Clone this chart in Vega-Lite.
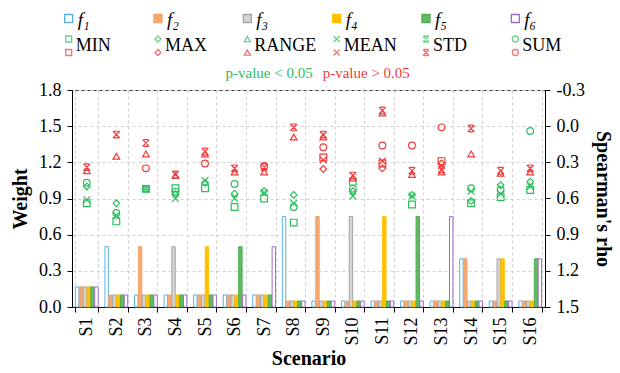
{
  "$schema": "https://vega.github.io/schema/vega-lite/v6.json",
  "background": "white",
  "padding": {"left": 10, "top": 5, "right": 2, "bottom": 0},
  "spacing": 4,
  "bounds": "flush",
  "config": {
    "font": "Liberation Serif",
    "view": {"stroke": "#404040"},
    "axis": {"labelFont": "Liberation Serif", "titleFont": "Liberation Serif"},
    "text": {"font": "Liberation Serif"}
  },
  "datasets": {
    "bars": [
      {"scenario":"S1","feature":"f1","weight":0.167},{"scenario":"S1","feature":"f2","weight":0.167},{"scenario":"S1","feature":"f3","weight":0.167},{"scenario":"S1","feature":"f4","weight":0.167},{"scenario":"S1","feature":"f5","weight":0.167},{"scenario":"S1","feature":"f6","weight":0.167},
      {"scenario":"S2","feature":"f1","weight":0.5},{"scenario":"S2","feature":"f2","weight":0.1},{"scenario":"S2","feature":"f3","weight":0.1},{"scenario":"S2","feature":"f4","weight":0.1},{"scenario":"S2","feature":"f5","weight":0.1},{"scenario":"S2","feature":"f6","weight":0.1},
      {"scenario":"S3","feature":"f1","weight":0.1},{"scenario":"S3","feature":"f2","weight":0.5},{"scenario":"S3","feature":"f3","weight":0.1},{"scenario":"S3","feature":"f4","weight":0.1},{"scenario":"S3","feature":"f5","weight":0.1},{"scenario":"S3","feature":"f6","weight":0.1},
      {"scenario":"S4","feature":"f1","weight":0.1},{"scenario":"S4","feature":"f2","weight":0.1},{"scenario":"S4","feature":"f3","weight":0.5},{"scenario":"S4","feature":"f4","weight":0.1},{"scenario":"S4","feature":"f5","weight":0.1},{"scenario":"S4","feature":"f6","weight":0.1},
      {"scenario":"S5","feature":"f1","weight":0.1},{"scenario":"S5","feature":"f2","weight":0.1},{"scenario":"S5","feature":"f3","weight":0.1},{"scenario":"S5","feature":"f4","weight":0.5},{"scenario":"S5","feature":"f5","weight":0.1},{"scenario":"S5","feature":"f6","weight":0.1},
      {"scenario":"S6","feature":"f1","weight":0.1},{"scenario":"S6","feature":"f2","weight":0.1},{"scenario":"S6","feature":"f3","weight":0.1},{"scenario":"S6","feature":"f4","weight":0.1},{"scenario":"S6","feature":"f5","weight":0.5},{"scenario":"S6","feature":"f6","weight":0.1},
      {"scenario":"S7","feature":"f1","weight":0.1},{"scenario":"S7","feature":"f2","weight":0.1},{"scenario":"S7","feature":"f3","weight":0.1},{"scenario":"S7","feature":"f4","weight":0.1},{"scenario":"S7","feature":"f5","weight":0.1},{"scenario":"S7","feature":"f6","weight":0.5},
      {"scenario":"S8","feature":"f1","weight":0.75},{"scenario":"S8","feature":"f2","weight":0.05},{"scenario":"S8","feature":"f3","weight":0.05},{"scenario":"S8","feature":"f4","weight":0.05},{"scenario":"S8","feature":"f5","weight":0.05},{"scenario":"S8","feature":"f6","weight":0.05},
      {"scenario":"S9","feature":"f1","weight":0.05},{"scenario":"S9","feature":"f2","weight":0.75},{"scenario":"S9","feature":"f3","weight":0.05},{"scenario":"S9","feature":"f4","weight":0.05},{"scenario":"S9","feature":"f5","weight":0.05},{"scenario":"S9","feature":"f6","weight":0.05},
      {"scenario":"S10","feature":"f1","weight":0.05},{"scenario":"S10","feature":"f2","weight":0.05},{"scenario":"S10","feature":"f3","weight":0.75},{"scenario":"S10","feature":"f4","weight":0.05},{"scenario":"S10","feature":"f5","weight":0.05},{"scenario":"S10","feature":"f6","weight":0.05},
      {"scenario":"S11","feature":"f1","weight":0.05},{"scenario":"S11","feature":"f2","weight":0.05},{"scenario":"S11","feature":"f3","weight":0.05},{"scenario":"S11","feature":"f4","weight":0.75},{"scenario":"S11","feature":"f5","weight":0.05},{"scenario":"S11","feature":"f6","weight":0.05},
      {"scenario":"S12","feature":"f1","weight":0.05},{"scenario":"S12","feature":"f2","weight":0.05},{"scenario":"S12","feature":"f3","weight":0.05},{"scenario":"S12","feature":"f4","weight":0.05},{"scenario":"S12","feature":"f5","weight":0.75},{"scenario":"S12","feature":"f6","weight":0.05},
      {"scenario":"S13","feature":"f1","weight":0.05},{"scenario":"S13","feature":"f2","weight":0.05},{"scenario":"S13","feature":"f3","weight":0.05},{"scenario":"S13","feature":"f4","weight":0.05},{"scenario":"S13","feature":"f5","weight":0.05},{"scenario":"S13","feature":"f6","weight":0.75},
      {"scenario":"S14","feature":"f1","weight":0.4},{"scenario":"S14","feature":"f2","weight":0.4},{"scenario":"S14","feature":"f3","weight":0.05},{"scenario":"S14","feature":"f4","weight":0.05},{"scenario":"S14","feature":"f5","weight":0.05},{"scenario":"S14","feature":"f6","weight":0.05},
      {"scenario":"S15","feature":"f1","weight":0.05},{"scenario":"S15","feature":"f2","weight":0.05},{"scenario":"S15","feature":"f3","weight":0.4},{"scenario":"S15","feature":"f4","weight":0.4},{"scenario":"S15","feature":"f5","weight":0.05},{"scenario":"S15","feature":"f6","weight":0.05},
      {"scenario":"S16","feature":"f1","weight":0.05},{"scenario":"S16","feature":"f2","weight":0.05},{"scenario":"S16","feature":"f3","weight":0.05},{"scenario":"S16","feature":"f4","weight":0.05},{"scenario":"S16","feature":"f5","weight":0.4},{"scenario":"S16","feature":"f6","weight":0.4}
    ],
    "points": [
      {"scenario":"S1","stat":"MIN","rho":0.64,"sig":"lt"},{"scenario":"S1","stat":"MAX","rho":0.50,"sig":"lt"},{"scenario":"S1","stat":"RANGE","rho":0.37,"sig":"gt"},{"scenario":"S1","stat":"MEAN","rho":0.61,"sig":"lt"},{"scenario":"S1","stat":"STD","rho":0.34,"sig":"gt"},{"scenario":"S1","stat":"SUM","rho":0.47,"sig":"lt"},
      {"scenario":"S2","stat":"MIN","rho":0.79,"sig":"lt"},{"scenario":"S2","stat":"MAX","rho":0.64,"sig":"lt"},{"scenario":"S2","stat":"RANGE","rho":0.25,"sig":"gt"},{"scenario":"S2","stat":"MEAN","rho":0.74,"sig":"lt"},{"scenario":"S2","stat":"STD","rho":0.07,"sig":"gt"},{"scenario":"S2","stat":"SUM","rho":0.72,"sig":"lt"},
      {"scenario":"S3","stat":"MIN","rho":0.52,"sig":"lt"},{"scenario":"S3","stat":"MAX","rho":0.52,"sig":"lt"},{"scenario":"S3","stat":"RANGE","rho":0.23,"sig":"gt"},{"scenario":"S3","stat":"MEAN","rho":0.52,"sig":"lt"},{"scenario":"S3","stat":"STD","rho":0.14,"sig":"gt"},{"scenario":"S3","stat":"SUM","rho":0.35,"sig":"gt"},
      {"scenario":"S4","stat":"MIN","rho":0.515,"sig":"lt"},{"scenario":"S4","stat":"MAX","rho":0.565,"sig":"lt"},{"scenario":"S4","stat":"RANGE","rho":0.41,"sig":"gt"},{"scenario":"S4","stat":"MEAN","rho":0.60,"sig":"lt"},{"scenario":"S4","stat":"STD","rho":0.40,"sig":"gt"},{"scenario":"S4","stat":"SUM","rho":0.545,"sig":"lt"},
      {"scenario":"S5","stat":"MIN","rho":0.515,"sig":"lt"},{"scenario":"S5","stat":"MAX","rho":0.47,"sig":"lt"},{"scenario":"S5","stat":"RANGE","rho":0.23,"sig":"gt"},{"scenario":"S5","stat":"MEAN","rho":0.45,"sig":"lt"},{"scenario":"S5","stat":"STD","rho":0.21,"sig":"gt"},{"scenario":"S5","stat":"SUM","rho":0.31,"sig":"gt"},
      {"scenario":"S6","stat":"MIN","rho":0.67,"sig":"lt"},{"scenario":"S6","stat":"MAX","rho":0.56,"sig":"lt"},{"scenario":"S6","stat":"RANGE","rho":0.38,"sig":"gt"},{"scenario":"S6","stat":"MEAN","rho":0.60,"sig":"lt"},{"scenario":"S6","stat":"STD","rho":0.35,"sig":"gt"},{"scenario":"S6","stat":"SUM","rho":0.48,"sig":"lt"},
      {"scenario":"S7","stat":"MIN","rho":0.60,"sig":"lt"},{"scenario":"S7","stat":"MAX","rho":0.54,"sig":"lt"},{"scenario":"S7","stat":"RANGE","rho":0.38,"sig":"gt"},{"scenario":"S7","stat":"MEAN","rho":0.55,"sig":"lt"},{"scenario":"S7","stat":"STD","rho":0.34,"sig":"gt"},{"scenario":"S7","stat":"SUM","rho":0.33,"sig":"gt"},
      {"scenario":"S8","stat":"MIN","rho":0.80,"sig":"lt"},{"scenario":"S8","stat":"MAX","rho":0.57,"sig":"lt"},{"scenario":"S8","stat":"RANGE","rho":0.09,"sig":"gt"},{"scenario":"S8","stat":"MEAN","rho":0.64,"sig":"lt"},{"scenario":"S8","stat":"STD","rho":0.01,"sig":"gt"},{"scenario":"S8","stat":"SUM","rho":0.67,"sig":"lt"},
      {"scenario":"S9","stat":"MIN","rho":0.26,"sig":"gt"},{"scenario":"S9","stat":"MAX","rho":0.355,"sig":"gt"},{"scenario":"S9","stat":"RANGE","rho":0.09,"sig":"gt"},{"scenario":"S9","stat":"MEAN","rho":0.28,"sig":"gt"},{"scenario":"S9","stat":"STD","rho":0.07,"sig":"gt"},{"scenario":"S9","stat":"SUM","rho":0.175,"sig":"gt"},
      {"scenario":"S10","stat":"MIN","rho":0.46,"sig":"lt"},{"scenario":"S10","stat":"MAX","rho":0.54,"sig":"lt"},{"scenario":"S10","stat":"RANGE","rho":0.43,"sig":"gt"},{"scenario":"S10","stat":"MEAN","rho":0.58,"sig":"lt"},{"scenario":"S10","stat":"STD","rho":0.41,"sig":"gt"},{"scenario":"S10","stat":"SUM","rho":0.52,"sig":"lt"},
      {"scenario":"S11","stat":"MIN","rho":0.31,"sig":"gt"},{"scenario":"S11","stat":"MAX","rho":0.35,"sig":"gt"},{"scenario":"S11","stat":"RANGE","rho":-0.11,"sig":"gt"},{"scenario":"S11","stat":"MEAN","rho":0.29,"sig":"gt"},{"scenario":"S11","stat":"STD","rho":-0.13,"sig":"gt"},{"scenario":"S11","stat":"SUM","rho":0.16,"sig":"gt"},
      {"scenario":"S12","stat":"MIN","rho":0.65,"sig":"lt"},{"scenario":"S12","stat":"MAX","rho":0.57,"sig":"lt"},{"scenario":"S12","stat":"RANGE","rho":0.40,"sig":"gt"},{"scenario":"S12","stat":"MEAN","rho":0.58,"sig":"lt"},{"scenario":"S12","stat":"STD","rho":0.37,"sig":"gt"},{"scenario":"S12","stat":"SUM","rho":0.16,"sig":"gt"},
      {"scenario":"S13","stat":"MIN","rho":0.29,"sig":"gt"},{"scenario":"S13","stat":"MAX","rho":0.31,"sig":"gt"},{"scenario":"S13","stat":"RANGE","rho":0.38,"sig":"gt"},{"scenario":"S13","stat":"MEAN","rho":0.33,"sig":"gt"},{"scenario":"S13","stat":"STD","rho":0.36,"sig":"gt"},{"scenario":"S13","stat":"SUM","rho":0.01,"sig":"gt"},
      {"scenario":"S14","stat":"MIN","rho":0.64,"sig":"lt"},{"scenario":"S14","stat":"MAX","rho":0.62,"sig":"lt"},{"scenario":"S14","stat":"RANGE","rho":0.23,"sig":"gt"},{"scenario":"S14","stat":"MEAN","rho":0.54,"sig":"lt"},{"scenario":"S14","stat":"STD","rho":0.02,"sig":"gt"},{"scenario":"S14","stat":"SUM","rho":0.515,"sig":"lt"},
      {"scenario":"S15","stat":"MIN","rho":0.59,"sig":"lt"},{"scenario":"S15","stat":"MAX","rho":0.49,"sig":"lt"},{"scenario":"S15","stat":"RANGE","rho":0.39,"sig":"gt"},{"scenario":"S15","stat":"MEAN","rho":0.56,"sig":"lt"},{"scenario":"S15","stat":"STD","rho":0.37,"sig":"gt"},{"scenario":"S15","stat":"SUM","rho":0.53,"sig":"lt"},
      {"scenario":"S16","stat":"MIN","rho":0.53,"sig":"lt"},{"scenario":"S16","stat":"MAX","rho":0.46,"sig":"lt"},{"scenario":"S16","stat":"RANGE","rho":0.38,"sig":"gt"},{"scenario":"S16","stat":"MEAN","rho":0.50,"sig":"lt"},{"scenario":"S16","stat":"STD","rho":0.35,"sig":"gt"},{"scenario":"S16","stat":"SUM","rho":0.04,"sig":"lt"}
    ],
    "legendF": [
      {"col":1,"row":"f","feature":"f1","label":"f₁"},
      {"col":2,"row":"f","feature":"f2","label":"f₂"},
      {"col":3,"row":"f","feature":"f3","label":"f₃"},
      {"col":4,"row":"f","feature":"f4","label":"f₄"},
      {"col":5,"row":"f","feature":"f5","label":"f₅"},
      {"col":6,"row":"f","feature":"f6","label":"f₆"}
    ],
    "legendS": [
      {"col":1,"row":"stat","stat":"MIN"},
      {"col":2,"row":"stat","stat":"MAX"},
      {"col":3,"row":"stat","stat":"RANGE"},
      {"col":4,"row":"stat","stat":"MEAN"},
      {"col":5,"row":"stat","stat":"STD"},
      {"col":6,"row":"stat","stat":"SUM"}
    ],
    "legendP": [
      {"col":4,"row":"p","label":"p-value < 0.05","sig":"lt"},
      {"col":4,"row":"p","label":"p-value > 0.05","sig":"gt"}
    ]
  },
  "vconcat": [
    {
      "width": 473,
      "height": 81,
      "view": {"stroke": null},
      "encoding": {
        "x": {"field":"col","type":"ordinal","bandPosition":0,"scale":{"domain":[1,2,3,4,5,6],"range":[-48,488],"paddingInner":0,"paddingOuter":0},"axis":null},
        "y": {"field":"row","type":"nominal","scale":{"domain":["f","stat","p"],"paddingInner":0,"paddingOuter":0},"axis":null}
      },
      "layer": [
        {
          "data": {"name":"legendF"},
          "mark": {"type":"square","size":64,"strokeWidth":1.3,"opacity":1},
          "encoding": {
            "fill": {"field":"feature","type":"nominal","scale":{"domain":["f1","f2","f3","f4","f5","f6"],"range":["#FFFFFF","#F6A872","#D4D4D4","#FFC000","#62BA62","#FFFFFF"]},"legend":null},
            "stroke": {"field":"feature","type":"nominal","scale":{"domain":["f1","f2","f3","f4","f5","f6"],"range":["#5AB0E0","#F5A26B","#A6A6A6","#FFC000","#4CAF50","#9E6CC8"]},"legend":null}
          }
        },
        {
          "data": {"name":"legendF"},
          "mark": {"type":"text","align":"left","dx":9,"dy":1,"fontSize":19,"fontStyle":"italic","font":"Liberation Serif","color":"black"},
          "encoding": {"text": {"field":"label"}}
        },
        {
          "data": {"name":"legendS"},
          "mark": {"type":"point","filled":false,"size":36,"strokeWidth":1.3,"yOffset":-6.5,"color":"#2DBE5C"},
          "encoding": {
            "shape": {"field":"stat","type":"nominal","scale":{"domain":["MIN","MAX","RANGE","MEAN","STD","SUM"],"range":["square","diamond","triangle-up","M-1,-1L1,1M-1,1L1,-1","M-1,-1L1,1M-1,1L1,-1M-0.7,-1L0.7,-1M-0.7,1L0.7,1","circle"]},"legend":null}
          }
        },
        {
          "data": {"name":"legendS"},
          "mark": {"type":"point","filled":false,"size":36,"strokeWidth":1.3,"yOffset":7,"color":"#F03C3C"},
          "encoding": {
            "shape": {"field":"stat","type":"nominal","legend":null}
          }
        },
        {
          "data": {"name":"legendS"},
          "mark": {"type":"text","align":"left","dx":7,"fontSize":18,"font":"Liberation Serif","color":"black"},
          "encoding": {"text": {"field":"stat"}}
        },
        {
          "data": {"name":"legendP"},
          "transform": [{"filter":"datum.sig == 'lt'"}],
          "mark": {"type":"text","align":"right","dx":-24,"fontSize":15,"font":"Liberation Serif","color":"#2DBE5C"},
          "encoding": {"text": {"field":"label"}}
        },
        {
          "data": {"name":"legendP"},
          "transform": [{"filter":"datum.sig == 'gt'"}],
          "mark": {"type":"text","align":"left","dx":-14,"fontSize":15,"font":"Liberation Serif","color":"#F03C3C"},
          "encoding": {"text": {"field":"label"}}
        }
      ]
    },
    {
      "width": 473,
      "height": 217,
      "layer": [
        {
          "data": {"name":"bars"},
          "mark": {"type":"bar","strokeWidth":1},
          "encoding": {
            "x": {"field":"scenario","type":"nominal","sort":["S1","S2","S3","S4","S5","S6","S7","S8","S9","S10","S11","S12","S13","S14","S15","S16"],"scale":{"paddingInner":0.23,"paddingOuter":0.115},
              "axis":{"title":"Scenario","labelAngle":270,"labelFont":"Liberation Serif","labelFontSize":18,"labelColor":"black","labelPadding":5,"tickBand":"extent","tickSize":5,"tickColor":"black","domainColor":"black","grid":true,"gridDash":[3,3],"gridColor":"#D0D0D0","titleFont":"Liberation Serif","titleFontSize":20,"titleFontWeight":"bold","titleColor":"black","titlePadding":3}},
            "xOffset": {"field":"feature","type":"nominal","sort":["f1","f2","f3","f4","f5","f6"],"scale":{"paddingInner":0.12}},
            "y": {"field":"weight","type":"quantitative","scale":{"domain":[0,1.8],"nice":false},
              "axis":{"title":"Weight","values":[0,0.3,0.6,0.9,1.2,1.5,1.8],"format":".1f","labelFont":"Liberation Serif","labelFontSize":18,"labelColor":"black","labelPadding":6,"tickSize":5,"tickColor":"black","domainColor":"black","grid":true,"gridDash":[3,3],"gridColor":"#D0D0D0","titleFont":"Liberation Serif","titleFontSize":20,"titleFontWeight":"bold","titleColor":"black","titlePadding":8}},
            "fill": {"field":"feature","type":"nominal","scale":{"domain":["f1","f2","f3","f4","f5","f6"],"range":["#FFFFFF","#F6A872","#D4D4D4","#FFC000","#62BA62","#FFFFFF"]},"legend":null},
            "stroke": {"field":"feature","type":"nominal","scale":{"domain":["f1","f2","f3","f4","f5","f6"],"range":["#5AB0E0","#F5A26B","#A6A6A6","#FFC000","#4CAF50","#9E6CC8"]},"legend":null}
          }
        },
        {
          "data": {"name":"points"},
          "mark": {"type":"point","filled":false,"size":45,"strokeWidth":1.2,"opacity":1},
          "encoding": {
            "x": {"field":"scenario","type":"nominal","sort":["S1","S2","S3","S4","S5","S6","S7","S8","S9","S10","S11","S12","S13","S14","S15","S16"]},
            "y": {"field":"rho","type":"quantitative","scale":{"domain":[-0.3,1.5],"reverse":true,"nice":false,"zero":false},
              "axis":{"orient":"right","title":"Spearman's rho","values":[-0.3,0,0.3,0.6,0.9,1.2,1.5],"format":".1f","labelExpr":"replace(datum.label, '−', '-')","labelFont":"Liberation Serif","labelFontSize":18,"labelColor":"black","labelPadding":6,"tickSize":5,"tickColor":"black","domainColor":"black","grid":false,"titleFont":"Liberation Serif","titleFontSize":20,"titleFontWeight":"bold","titleColor":"black","titlePadding":8}},
            "shape": {"field":"stat","type":"nominal","scale":{"domain":["MIN","MAX","RANGE","MEAN","STD","SUM"],"range":["square","diamond","triangle-up","M-1,-1L1,1M-1,1L1,-1","M-1,-1L1,1M-1,1L1,-1M-0.7,-1L0.7,-1M-0.7,1L0.7,1","circle"]},"legend":null},
            "color": {"field":"sig","type":"nominal","scale":{"domain":["lt","gt"],"range":["#2DBE5C","#F03C3C"]},"legend":null}
          }
        }
      ],
      "resolve": {"scale": {"y": "independent"}}
    }
  ],
  "resolve": {"scale": {"x":"independent","y":"independent","shape":"independent","color":"independent","fill":"independent","stroke":"independent"}}
}
